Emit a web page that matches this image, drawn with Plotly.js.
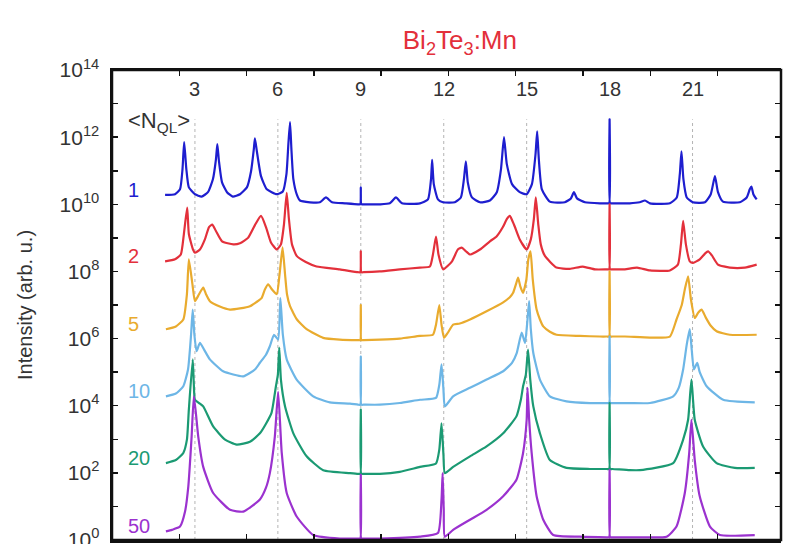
<!DOCTYPE html>
<html>
<head>
<meta charset="utf-8">
<script src="https://cdn.plot.ly/plotly-3.0.1.min.js"></script>
<style>
  html, body { margin: 0; padding: 0; background: #fff; }
  #chart { width: 785px; height: 544px; }
</style>
</head>
<body>
<div id="chart"></div>
<script>
// Diffraction profiles of Bi2Te3:Mn for several mean quintuple-layer counts <N_QL>.
// Each profile is a list of [position, intensity] pairs; profiles are stacked by decades.

const nql1 = [[1.92,1.9e10],[2.28,2.0e10],[2.46,2.8e10],[2.55,1.1e11],[2.61,7.1e11],[2.69,1.1e11],[2.78,3.2e10],[3.00,2.0e10],[3.24,1.7e10],[3.47,2.3e10],[3.65,5.6e10],[3.76,2.2e11],[3.81,6.2e11],[3.87,1.9e11],[3.98,4.5e10],[4.16,2.3e10],[4.37,1.7e10],[4.63,2.0e10],[4.88,3.2e10],[5.03,9.7e10],[5.13,4.4e11],[5.17,9.3e11],[5.24,3.8e11],[5.39,6.9e10],[5.60,2.8e10],[5.96,2.0e10],[6.18,2.4e10],[6.31,7.9e10],[6.38,6.2e11],[6.44,2.8e12],[6.49,4.4e11],[6.56,5.6e10],[6.69,1.9e10],[6.80,1.3e10],[7.16,1.15e10],[7.52,1.15e10],[7.74,1.6e10],[7.96,1.15e10],[8.43,1.07e10],[8.90,1.0e10],[8.98,1.0e10],[9.00,3.2e10],[9.02,1.0e10],[9.10,1.0e10],[9.69,1.0e10],[10.05,1.07e10],[10.27,1.6e10],[10.49,1.07e10],[11.14,1.07e10],[11.43,1.4e10],[11.54,5.6e10],[11.58,2.1e11],[11.64,4.0e10],[11.79,1.4e10],[11.97,1.15e10],[12.40,1.15e10],[12.62,1.6e10],[12.73,5.6e10],[12.80,1.9e11],[12.87,4.5e10],[13.02,1.6e10],[13.31,1.15e10],[13.67,1.3e10],[13.92,2.3e10],[14.07,1.1e11],[14.18,1.0e12],[14.28,1.6e11],[14.47,4.0e10],[14.75,2.3e10],[15.00,2.0e10],[15.19,4.0e10],[15.32,3.1e11],[15.38,1.5e12],[15.44,2.2e11],[15.55,2.8e10],[15.84,1.2e10],[16.38,1.15e10],[16.60,1.5e10],[16.71,2.3e10],[16.82,1.5e10],[17.11,1.15e10],[17.65,1.07e10],[17.90,1.07e10],[17.98,1.07e10],[18.00,3.4e12],[18.02,1.07e10],[18.10,1.07e10],[18.73,1.07e10],[19.09,1.15e10],[19.28,1.3e10],[19.46,1.07e10],[20.18,1.07e10],[20.43,1.6e10],[20.54,7.9e10],[20.60,3.8e11],[20.67,5.6e10],[20.79,1.6e10],[21.01,1.15e10],[21.45,1.15e10],[21.66,2.0e10],[21.81,6.9e10],[21.92,2.3e10],[22.10,1.2e10],[22.71,1.15e10],[22.96,1.6e10],[23.07,2.8e10],[23.13,3.4e10],[23.20,2.0e10],[23.32,1.4e10]];

const nql2 = [[1.92,2.0e8],[2.28,2.3e8],[2.49,3.2e8],[2.60,1.3e9],[2.72,8.0e9],[2.78,1.3e9],[2.93,4.5e8],[3.00,3.6e8],[3.18,4.5e8],[3.36,9.0e8],[3.51,2.1e9],[3.63,2.5e9],[3.76,1.6e9],[3.98,7.9e8],[4.39,6.4e8],[4.63,6.9e8],[4.92,1.0e9],[5.17,2.4e9],[5.39,4.5e9],[5.57,2.1e9],[5.75,7.3e8],[5.96,4.5e8],[6.11,6.4e8],[6.22,2.5e9],[6.32,2.2e10],[6.40,3.6e9],[6.51,6.4e8],[6.68,2.9e8],[7.01,1.9e8],[7.40,1.4e8],[8.24,1.15e8],[8.90,9.5e7],[8.98,9.5e7],[9.00,4.0e8],[9.02,9.5e7],[9.10,9.5e7],[9.69,1.0e8],[10.41,1.15e8],[11.14,1.3e8],[11.50,1.4e8],[11.61,3.2e8],[11.72,1.1e9],[11.81,3.2e8],[11.98,1.15e8],[12.30,2.0e8],[12.51,4.5e8],[12.65,5.1e8],[12.80,4.0e8],[12.95,3.2e8],[13.31,4.5e8],[13.67,7.9e8],[13.91,1.1e9],[14.14,2.1e9],[14.28,3.6e9],[14.39,4.5e9],[14.54,2.5e9],[14.75,9.0e8],[15.00,4.5e8],[15.15,9.0e8],[15.26,3.6e9],[15.33,1.6e10],[15.42,2.5e9],[15.51,6.4e8],[15.66,2.9e8],[16.08,1.3e8],[16.56,1.2e8],[17.03,1.4e8],[17.47,1.15e8],[17.90,1.15e8],[17.98,1.15e8],[18.00,1.0e10],[18.02,1.15e8],[18.10,1.15e8],[18.55,1.15e8],[18.99,1.3e8],[19.46,1.07e8],[20.18,1.07e8],[20.47,1.6e8],[20.58,6.4e8],[20.66,3.2e9],[20.76,6.4e8],[20.90,2.0e8],[21.02,1.8e8],[21.26,2.3e8],[21.45,3.4e8],[21.56,4.0e8],[21.70,3.0e8],[21.92,1.6e8],[22.35,1.3e8],[22.89,1.3e8],[23.32,1.6e8]];

const nql5 = [[1.95,1.9e6],[2.31,2.3e6],[2.58,3.7e6],[2.71,2.1e7],[2.78,2.3e8],[2.91,4.1e7],[3.00,1.3e7],[3.15,2.1e7],[3.30,3.3e7],[3.40,2.1e7],[3.54,1.3e7],[3.90,9.0e6],[4.27,7.3e6],[4.63,7.9e6],[4.99,9.2e6],[5.21,1.2e7],[5.41,1.6e7],[5.53,2.9e7],[5.65,4.1e7],[5.79,2.9e7],[5.96,2.1e7],[6.06,8.1e7],[6.17,5.2e8],[6.26,8.1e7],[6.33,2.1e7],[6.44,9.2e6],[6.69,3.7e6],[7.04,1.9e6],[7.64,1.05e6],[8.24,9.3e5],[8.90,9.0e5],[8.98,9.0e5],[9.00,1.0e7],[9.02,9.0e5],[9.10,9.0e5],[9.69,9.3e5],[10.41,1.0e6],[11.14,1.2e6],[11.61,1.3e6],[11.72,2.6e6],[11.84,1.0e7],[11.92,2.6e6],[12.01,1.05e6],[12.15,1.5e6],[12.34,2.6e6],[12.58,2.8e6],[12.95,3.7e6],[13.55,6.5e6],[14.15,1.2e7],[14.39,1.7e7],[14.51,2.3e7],[14.61,4.1e7],[14.69,6.5e7],[14.77,3.6e7],[14.87,2.3e7],[14.99,5.8e7],[15.06,2.3e8],[15.14,4.0e8],[15.22,5.8e7],[15.36,7.3e6],[15.48,3.7e6],[15.60,2.3e6],[15.84,1.6e6],[16.08,1.3e6],[16.92,1.2e6],[17.65,1.15e6],[17.90,1.15e6],[17.98,1.15e6],[18.00,1.0e8],[18.02,1.15e6],[18.10,1.15e6],[18.55,1.15e6],[19.46,1.07e6],[20.18,1.15e6],[20.42,3.7e6],[20.61,1.0e7],[20.72,2.9e7],[20.84,7.2e7],[20.94,1.5e7],[21.08,4.1e6],[21.21,6.0e6],[21.33,7.3e6],[21.48,4.2e6],[21.66,2.4e6],[21.87,1.65e6],[22.35,1.3e6],[23.32,1.3e6]];

const nql10 = [[1.95,1.9e4],[2.31,2.3e4],[2.58,3.8e4],[2.75,1.2e5],[2.86,1.3e6],[2.92,7.3e6],[2.98,1.3e6],[3.06,4.2e5],[3.18,7.4e5],[3.33,4.7e5],[3.54,2.4e5],[4.02,1.06e5],[4.75,7.5e4],[5.17,1.2e5],[5.35,1.9e5],[5.57,3.3e5],[5.71,5.9e5],[5.86,1.3e6],[6.01,9.3e5],[6.09,1.6e7],[6.18,1.3e6],[6.32,2.4e5],[6.68,6.0e4],[7.28,1.9e4],[7.88,1.25e4],[8.61,1.15e4],[8.90,1.07e4],[8.98,1.07e4],[9.00,2.9e5],[9.02,1.07e4],[9.10,1.07e4],[9.69,1.07e4],[10.41,1.2e4],[11.14,1.5e4],[11.72,1.7e4],[11.84,4.2e4],[11.92,1.7e5],[11.99,3.0e4],[12.04,9.5e3],[12.34,1.9e4],[12.95,3.4e4],[13.55,6.0e4],[14.15,1.06e5],[14.47,1.9e5],[14.64,3.7e5],[14.82,1.5e6],[14.94,7.4e5],[15.03,3.7e6],[15.09,1.3e7],[15.15,1.9e6],[15.24,3.7e5],[15.48,6.0e4],[15.84,1.9e4],[16.44,1.35e4],[17.29,1.2e4],[17.90,1.2e4],[17.98,1.2e4],[18.00,1.15e6],[18.02,1.2e4],[18.10,1.2e4],[18.73,1.2e4],[19.46,1.2e4],[20.30,1.9e4],[20.50,3.4e4],[20.66,1.2e5],[20.79,6.6e5],[20.90,1.9e6],[20.97,4.7e5],[21.05,1.2e5],[21.17,1.9e5],[21.26,1.0e5],[21.51,3.8e4],[22.11,1.5e4],[23.25,1.25e4]];

const nql20 = [[1.95,1.95e2],[2.31,2.4e2],[2.58,3.9e2],[2.71,9.7e2],[2.78,7.6e3],[2.92,2.4e5],[2.96,4.2e4],[3.00,1.5e4],[3.15,1.2e4],[3.30,9.5e3],[3.66,2.4e3],[4.09,9.7e2],[4.51,6.9e2],[4.99,8.4e2],[5.35,1.5e3],[5.57,2.9e3],[5.77,6.1e3],[5.93,3.8e4],[6.00,8.4e4],[6.05,5.4e5],[6.11,6.0e4],[6.26,9.5e3],[6.56,1.5e3],[7.04,3.1e2],[7.64,1.2e2],[8.61,98],[8.90,93],[8.98,93],[9.00,7.6e3],[9.02,93],[9.10,93],[9.69,93],[10.41,1.07e2],[11.14,1.5e2],[11.72,1.9e2],[11.84,4.9e2],[11.92,3.0e3],[11.99,3.4e2],[12.04,98],[12.34,1.5e2],[12.95,3.1e2],[13.55,6.1e2],[14.15,1.5e3],[14.63,4.8e3],[14.79,1.5e4],[14.87,3.8e4],[14.97,8.4e4],[15.05,4.7e5],[15.13,6.0e4],[15.24,9.5e3],[15.48,1.5e3],[15.84,2.4e2],[16.44,1.4e2],[17.29,1.3e2],[17.90,1.3e2],[17.98,1.3e2],[18.00,1.2e4],[18.02,1.3e2],[18.10,1.3e2],[18.73,1.2e2],[19.09,1.2e2],[20.30,1.95e2],[20.66,9.7e2],[20.84,3.8e3],[20.96,6.0e4],[21.08,3.8e3],[21.38,6.1e2],[21.87,1.95e2],[22.53,1.4e2],[23.25,1.4e2]];

const nql50 = [[1.95,1.8],[2.17,2.0],[2.46,2.5],[2.64,6.9],[2.76,39],[2.88,1.2e3],[2.96,1.9e4],[3.04,5.4e3],[3.12,1.2e3],[3.30,1.5e2],[3.66,25],[4.27,7.9],[4.75,7.0],[5.35,16],[5.57,36],[5.71,98],[5.89,1.2e3],[6.01,2.6e4],[6.14,3.9e2],[6.32,25],[6.68,5.0],[7.28,1.4],[8.24,1.1],[8.90,1.1],[8.98,1.1],[9.00,87],[9.02,1.1],[9.10,1.1],[9.69,1.1],[11.14,1.25],[11.79,1.6],[11.92,16],[11.96,98],[12.00,7.9],[12.04,1.25],[12.34,2.0],[12.95,4.0],[13.55,7.9],[14.15,20],[14.63,62],[14.87,3.9e2],[15.00,3.8e3],[15.03,3.4e4],[15.09,3.8e3],[15.18,3.9e2],[15.36,20],[15.60,4.0],[15.96,1.4],[16.92,1.25],[17.90,1.2],[17.98,1.2],[18.00,1.2e2],[18.02,1.2],[18.10,1.2],[19.09,1.2],[20.06,1.25],[20.42,2.5],[20.72,25],[20.88,3.9e2],[20.96,3.8e3],[21.08,2.4e2],[21.26,20],[21.63,2.5],[21.99,1.4],[23.25,1.4]];

const nqlLabels = ['1', '2', '5', '10', '20', '50'];
const nqlColors = ['#1e1ecf', '#e3303b', '#e9ab2e', '#6db6e6', '#1b9a73', '#9b32cf'];
const profiles  = [nql1, nql2, nql5, nql10, nql20, nql50];

// Thickness markers along the top edge.
const qlMarks = [3, 6, 9, 12, 15, 18, 21];

// Decades of the intensity axis.
const decades = [0, 1, 2, 3, 4, 5, 6, 7, 8, 9, 10, 11, 12, 13, 14];

const FONT = 'Liberation Sans, Arial, Helvetica, sans-serif';
const INK = '#333333';
const FRAME = '#111111';
const X_RANGE = [0, 24.2];
const Y_RANGE = [-0.002, 14.002];

const traces = profiles.map((p, k) => ({
  type: 'scatter',
  mode: 'lines',
  x: p.map(d => d[0]),
  y: p.map(d => d[1]),
  line: { color: nqlColors[k], width: 2.2, shape: 'spline', smoothing: 0.5 },
  hoverinfo: 'skip',
  showlegend: false
}));

// Empty trace that keeps the right-hand tick axis attached.
traces.push({ type: 'scatter', mode: 'lines', x: [], y: [], xaxis: 'x', yaxis: 'y2',
  hoverinfo: 'skip', showlegend: false });

// Curve labels, placed beside the start of each profile.
const annotations = profiles.map((p, k) => ({
  xref: 'paper', x: 0.021, xanchor: 'left',
  yref: 'y', y: Math.log10(p[0][1]), yanchor: 'middle', yshift: 5,
  text: nqlLabels[k], showarrow: false,
  font: { family: FONT, size: 20, color: nqlColors[k] }
}));

// Thickness marker labels just inside the top edge.
qlMarks.forEach(q => annotations.push({
  xref: 'x', x: q, xanchor: 'center',
  yref: 'paper', y: 0.96, yanchor: 'middle',
  text: String(q), showarrow: false,
  font: { family: FONT, size: 20, color: INK }
}));

annotations.push({
  xref: 'paper', x: 0.021, xanchor: 'left',
  yref: 'paper', y: 0.889, yanchor: 'middle',
  text: '&lt;N<sub>QL</sub>&gt;', showarrow: false,
  font: { family: FONT, size: 22, color: INK }
});

const shapes = qlMarks.map(q => ({
  type: 'line', layer: 'below',
  xref: 'x', x0: q, x1: q,
  yref: 'paper', y0: 0, y1: 0.895,
  line: { color: '#b4b4b4', width: 1, dash: 'dot' }
}));

// Plot frame.
shapes.push({
  type: 'rect', layer: 'above',
  xref: 'paper', x0: 0, x1: 1, yref: 'paper', y0: 0, y1: 1,
  line: { color: FRAME, width: 2.5 }, fillcolor: 'rgba(0,0,0,0)'
});

const yTicks = {
  type: 'log',
  range: Y_RANGE,
  tickmode: 'array',
  tickvals: decades.map(d => Math.pow(10, d)),
  ticks: 'inside', ticklen: 6, tickwidth: 1.5, tickcolor: FRAME,
  showgrid: false, zeroline: false
};

const layout = {
  width: 785,
  height: 544,
  margin: { l: 112, r: 4, t: 70, b: 4 },
  paper_bgcolor: '#ffffff',
  plot_bgcolor: '#ffffff',
  showlegend: false,
  font: { family: FONT, color: INK },
  title: {
    text: 'Bi<sub>2</sub>Te<sub>3</sub>:Mn',
    font: { family: FONT, size: 26, color: '#e3303b' },
    xref: 'paper', x: 0.52, xanchor: 'center',
    yref: 'container', y: 1 - 40 / 544, yanchor: 'middle'
  },
  xaxis: {
    range: X_RANGE,
    showgrid: false, zeroline: false,
    showline: true, linecolor: FRAME, linewidth: 2.5, mirror: 'ticks',
    ticks: 'inside', ticklen: 6, tickwidth: 1.5, tickcolor: FRAME,
    tick0: 0, dtick: 2.434,
    showticklabels: false
  },
  yaxis: Object.assign({}, yTicks, {
    ticktext: decades.map(d => (d % 2 === 0 ? '10<sup>' + d + '</sup>' : '')),
    showline: true, linecolor: FRAME, linewidth: 2.5,
    ticklabelstandoff: 6,
    ticklabeloverflow: 'allow',
    tickfont: { family: FONT, size: 21, color: INK },
    title: { text: 'Intensity (arb. u.)', font: { family: FONT, size: 20, color: INK }, standoff: 22 }
  }),
  yaxis2: Object.assign({}, yTicks, {
    overlaying: 'y', anchor: 'x', side: 'right',
    showticklabels: false, showline: false
  }),
  shapes: shapes,
  annotations: annotations
};

Plotly.newPlot('chart', traces, layout, { displayModeBar: false, staticPlot: true });
</script>
</body>
</html>
